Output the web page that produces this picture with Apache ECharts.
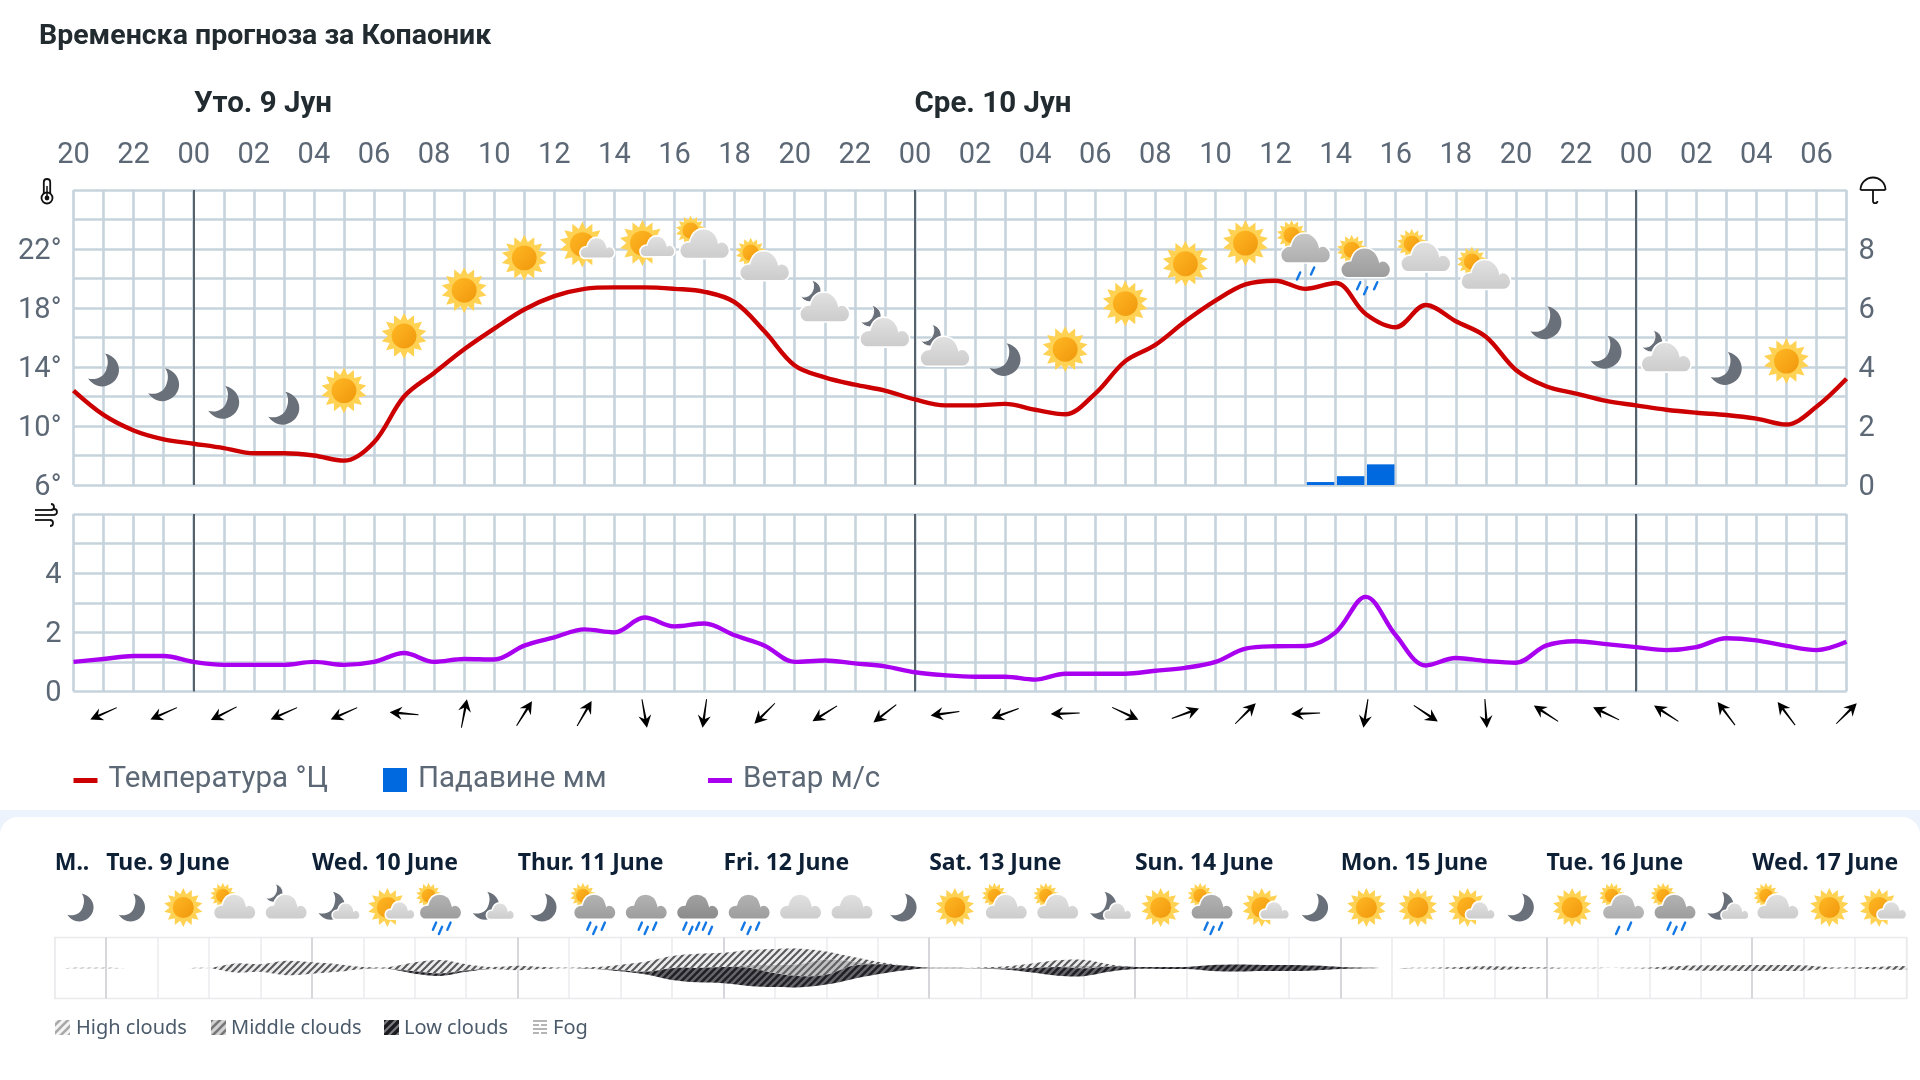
<!DOCTYPE html>
<html lang="sr">
<head>
<meta charset="utf-8">
<title>Временска прогноза за Копаоник</title>
<style>html,body{margin:0;padding:0;background:#fff}#chart{width:1920px;height:1080px}</style>
<script src="https://cdn.jsdelivr.net/npm/echarts@6/dist/echarts.min.js"></script>
</head>
<body>
<div id="chart"></div>
<script>
// Hourly forecast: hour 0 is 20:00 on the evening before the first day.
const hourLabels = ['20','22','00','02','04','06','08','10','12','14','16','18','20','22','00','02','04','06','08','10','12','14','16','18','20','22','00','02','04','06'];
const tempTicks = [6,10,14,18,22];
const rainTicks = [0,2,4,6,8];
const windTicks = [0,2,4];
const midnightHours = [4,28,52];

const temperature = [12.4,10.75,9.7,9.1,8.8,8.5,8.15,8.15,8.0,7.65,8.9,12.0,13.6,15.2,16.6,17.9,18.8,19.3,19.4,19.4,19.3,19.1,18.4,16.4,14.1,13.3,12.8,12.4,11.8,11.4,11.4,11.5,11.1,10.8,12.2,14.4,15.5,17.1,18.5,19.6,19.85,19.3,19.7,17.6,16.7,18.2,17.1,16.05,13.8,12.7,12.2,11.7,11.4,11.1,10.9,10.75,10.5,10.1,11.3,13.2];
const wind = [1.0,1.1,1.2,1.2,1.0,0.9,0.9,0.9,1.0,0.9,1.0,1.3,1.0,1.1,1.08,1.55,1.83,2.1,2.0,2.5,2.2,2.3,1.9,1.55,1.0,1.05,0.95,0.85,0.65,0.55,0.5,0.5,0.4,0.6,0.6,0.6,0.7,0.8,1.0,1.45,1.53,1.54,2.0,3.2,1.9,0.88,1.13,1.03,0.97,1.55,1.7,1.6,1.5,1.4,1.5,1.8,1.73,1.54,1.4,1.68];
const rainHours = [41.5,42.5,43.5];
const rainValues = [0.1,0.3,0.7];

// Wind arrows at every odd hour; bearing the arrow points to, clockwise from north.
const arrowHours = [1,3,5,7,9,11,13,15,17,19,21,23,25,27,29,31,33,35,37,39,41,43,45,47,49,51,53,55,57,59];
const arrowBearing = [246,246,243,246,246,275,11,32,30,170,188,225,238,232,262,250,268,115,70,45,268,189,124,176,303,296,303,323,323,45];

// Weather symbols above the temperature curve, height given in degrees.
const symbolHours = [1,3,5,7,9,11,13,15,17,19,21,23,25,27,29,31,33,35,37,39,41,43,45,47,49,51,53,55,57];
const symbolLevels = [13.8,12.8,11.6,11.2,12.4,16.1,19.2,21.4,22.3,22.4,22.3,20.8,18,16.3,15,14.5,15.2,18.3,21,22.4,22,21,21.4,20.2,17,15,14.6,13.9,14.4];
const symbolKinds = ['moon','moon','moon','moon','sun','sun','sun','sun','sun-s','sun-s','sun-c','sun-c','moon-c','moon-c','moon-c','moon','sun','sun','sun','sun','sun-r2','sun-r3','sun-c','sun-c','moon','moon','moon-c','moon','sun'];

// Nine day outlook, one symbol for each six hour cell.
const outlookDays = {0:'M..',1:'Tue. 9 June',5:'Wed. 10 June',9:'Thur. 11 June',13:'Fri. 12 June',17:'Sat. 13 June',21:'Sun. 14 June',25:'Mon. 15 June',29:'Tue. 16 June',33:'Wed. 17 June'};
const outlookDayStarts = [1,5,9,13,17,21,25,29,33];
const outlookKinds = ['moon','moon','sun','sun-c','moon-c','moon-s','sun-s','sun-r3','moon-s','moon','sun-r3','rain3','rain5','rain3','cloud','cloud','moon','sun','sun-c','sun-c','moon-s','sun','sun-r3','sun-s','moon','sun','sun','sun-s','moon','sun','sun-r2','sun-r3','moon-s','sun-c','sun','sun-s'];

// Cloud layers, sampled every three hours over the nine days (half-cell steps).
const highClouds = [0,2,2,0,0,0,0,30,25,47,37,25,6,6,29,44,21,6,14,6,2,6,18,34,40,47,47,50,53,50,27,15,8,0,0,0,2,7,15,22,20,8,0,0,0,0,0,0,0,0,0,0,0,2,4,9,11,6,4,2,1,1,3,12,18,18,20,20,18,5,5,9,10];
const midClouds  = [0,0,0,0,0,0,0,0,0,0,0,0,0,0,0,0,0,0,0,0,0,0,0,0,0,0,0,8,27,40,50,15,0,0,0,0,0,0,0,0,8,0,0,0,0,0,0,0,0,0,0,0,0,0,0,0,0,0,0,0,0,0,0,0,0,0,0,0,0,0,0,0,0];
const lowClouds  = [0,0,0,0,0,0,0,0,0,0,0,0,0,0,8,8,4,0,0,0,0,0,4,9,39,47,53,60,45,36,32,43,33,16,2,2,1,4,15,29,26,17,7,7,7,19,23,20,20,16,7,2,0,0,0,0,0,0,0,0,0,0,0,0,0,0,0,0,0,0,0,0,0];

const GRID_LINE = '#c6d3dc', MID_LINE = '#56616c', TICK = '#5c6875';
const CN = 'Roboto';

const MOON = 'M2,-16 C12,-14 17,-5 16,2 C15,11 7,17 -1,17 C-7,17 -12,13 -15,9 C-7,11 0,8 3,1 C6,-6 5,-12 2,-16 Z';
const CLOUD = 'M-18,14 H18 C22,14 25,10 25,6 C25,1 21,-3 17,-3 C16,-3 15,-3 14,-2 C12,-11 6,-16 -1,-16 C-8,-16 -13,-11 -15,-3 C-21,-3 -25,1 -25,6 C-25,10 -22,14 -18,14 Z';
const LG = (a, b) => new echarts.graphic.LinearGradient(0, 0, 0, 1, [{offset:0,color:a},{offset:1,color:b}]);
const TONES = {light:['#e2e2e2','#cbcbcb'], mid:['#c8c8c8','#adadad'], dark:['#b4b4b4','#9c9c9c'], deep:['#a3a3a3','#8a8a8a']};

function moonEl(cx, cy, s, halo) {
  return {type:'path', shape:{pathData:MOON, x:cx-15.5*s, y:cy-16.5*s, width:31*s, height:33*s},
    style:{fill:'#6a7079', stroke: halo ? '#fff' : null, lineWidth: halo ? 1 : 0}};
}
function cloudEl(cx, cy, s, tone) {
  const t = TONES[tone];
  return {type:'path', shape:{pathData:CLOUD, x:cx-25*s, y:cy-16*s, width:50*s, height:30*s},
    style:{fill:LG(t[0], t[1]), stroke:'#fff', lineWidth:1.6}};
}
function sunEls(cx, cy, r) {
  const pts = [], n = 14;
  for (let i = 0; i < n * 2; i++) {
    const a = Math.PI * i / n - Math.PI / 2, q = i % 2 ? r * 0.7 : r;
    pts.push([cx + q * Math.cos(a), cy + q * Math.sin(a)]);
  }
  return [
    {type:'polygon', shape:{points:pts}, style:{fill:'#ffd253'}},
    {type:'circle', shape:{cx, cy, r:r * 0.54},
      style:{fill:new echarts.graphic.LinearGradient(0,0,1,1,[{offset:0,color:'#ffb824'},{offset:1,color:'#f0970c'}])}}
  ];
}
function dropEls(cx, cy, list) {
  return list.map(d => ({type:'line', shape:{x1:cx+d[0]+1.6, y1:cy+d[1]-3.6, x2:cx+d[0]-1.6, y2:cy+d[1]+3.6},
    style:{stroke:'#1478e4', lineWidth:2.4, lineCap:'round'}}));
}
// A weather symbol centred on (cx, cy) at scale s.
function symbolEls(kind, cx, cy, s) {
  switch (kind) {
    case 'moon': return [moonEl(cx, cy, s)];
    case 'sun': return sunEls(cx, cy, 23 * s);
    case 'cloud': return [cloudEl(cx, cy, s, 'light')];
    case 'sun-s': return [...sunEls(cx - 2*s, cy, 23*s), cloudEl(cx + 13*s, cy + 4*s, 0.7*s, 'light')];
    case 'sun-c': return [...sunEls(cx - 14*s, cy - 14*s, 15*s), cloudEl(cx, cy, s, 'light')];
    case 'sun-r2': return [...sunEls(cx - 14*s, cy - 14*s, 15*s), cloudEl(cx, cy, s, 'mid'),
      ...dropEls(cx, cy, [[-7*s,27*s],[7*s,22*s]])];
    case 'sun-r3': return [...sunEls(cx - 14*s, cy - 14*s, 15*s), cloudEl(cx, cy, s, 'dark'),
      ...dropEls(cx, cy, [[-7*s,22*s],[0,27*s],[10*s,22*s]])];
    case 'rain3': return [cloudEl(cx, cy, s, 'dark'), ...dropEls(cx, cy, [[-7*s,22*s],[0,27*s],[10*s,22*s]])];
    case 'rain5': return [cloudEl(cx, cy, s, 'deep'),
      ...dropEls(cx, cy, [[-15*s,22*s],[-8*s,27*s],[0,22*s],[8*s,22*s],[15*s,27*s]])];
    case 'moon-c': return [moonEl(cx - 14*s, cy - 17*s, 0.66*s, true), cloudEl(cx, cy, s, 'light')];
    case 'moon-s': return [moonEl(cx - 7*s, cy - 2*s, s), cloudEl(cx + 10*s, cy + 5*s, 0.66*s, 'light')];
  }
  return [];
}

// Diagonal hatching used for the cloud layers.
function hatch(bg, stripe, lw, s) {
  const c = document.createElement('canvas');
  c.width = c.height = s;
  const g = c.getContext('2d');
  g.fillStyle = bg; g.fillRect(0, 0, s, s);
  g.strokeStyle = stripe; g.lineWidth = lw;
  [[-s,s,s,-s],[0,s,s,0],[0,2*s,2*s,0]].forEach(l => { g.beginPath(); g.moveTo(l[0],l[1]); g.lineTo(l[2],l[3]); g.stroke(); });
  return {image:c, repeat:'repeat'};
}
const HIGH_FILL = hatch('#ececec', '#58585c', 2, 7);
const MID_FILL  = hatch('#c2c2c2', '#626266', 2.2, 7);
const LOW_FILL  = hatch('#202024', '#66666c', 2.4, 7);
const HIGH_KEY  = hatch('#f4f4f4', '#a8a8a8', 2.6, 8);
const MID_KEY   = hatch('#d2d2d2', '#777779', 2.6, 8);
const LOW_KEY   = hatch('#1c1c20', '#7c7c80', 2.2, 8);

// Builds one cloud band as a polygon between two stacked boundaries.
function cloudBand(layer, fill) {
  return function (params, api) {
    const up = [], down = [];
    highClouds.forEach((h, i) => {
      const m = midClouds[i], l = lowClouds[i], top = (h + m + l) / 2;
      const edge = [top, top - h, top - h - m, top - h - m - l];
      up.push(api.coord([i / 2, edge[layer]]));
      down.unshift(api.coord([i / 2, edge[layer + 1]]));
    });
    return {type:'polygon', shape:{points:up.concat(down), smooth:0.35}, style:{fill}};
  };
}

const lineIcon = 'path://M0,0h.01v.01h-.01z M24,24h.01v.01h-.01z M0,10h24v5H0z';
const boxIcon = 'path://M0,0h24v24h-24z';
const legendBase = {top:765, itemWidth:24, itemHeight:24, padding:0, selectedMode:false,
  textStyle:{fontFamily:CN, fontSize:29.5, color:TICK, padding:[0,0,0,6]}};

const hourAxisBase = {type:'value', min:0, max:59, interval:1, axisLine:{show:false}, axisTick:{show:false},
  splitLine:{show:true, lineStyle:{color:GRID_LINE, width:2.6}}};
const yBase = {type:'value', axisLine:{show:false}, axisTick:{show:false},
  splitLine:{show:true, lineStyle:{color:GRID_LINE, width:2.6}}};
const tickFont = {fontFamily:CN, fontSize:29, color:TICK};
// Side labels sit slightly below their grid line.
const sideLabel = (list, suffix) => ({margin:12, ...tickFont,
  rich:{t:{...tickFont, padding:[5,0,0,0]}},
  formatter:v => list.includes(v) ? '{t|' + v + suffix + '}' : ''});
const midnightLine = {silent:true, symbol:'none', z:1, label:{show:false}, animation:false,
  lineStyle:{color:MID_LINE, width:2, type:'solid'}, data:midnightHours.map(h => ({xAxis:h}))};

const stroke1 = {fill:'none', stroke:'#111', lineWidth:1.8};
const fogStyle = {fill:'#b5b5b5'};

const chart = echarts.init(document.getElementById('chart'), null, {renderer:'canvas'});
chart.setOption({
  animation:false,
  backgroundColor:'#fff',
  textStyle:{fontFamily:CN},
  grid:[
    {left:73.5, right:73.5, top:190, height:295},
    {left:73.5, right:73.5, top:514, height:177.5},
    {left:54.7, right:13.5, top:937.5, height:61, show:true, borderColor:'#e9e9ec', borderWidth:1.5, backgroundColor:'transparent'}
  ],
  xAxis:[
    {...hourAxisBase, gridIndex:0, position:'top',
      axisLabel:{show:true, margin:20, ...tickFont, hideOverlap:false,
        formatter:v => v % 2 === 0 ? hourLabels[v / 2] : ''}},
    {...hourAxisBase, gridIndex:1, axisLabel:{show:false}},
    {type:'value', gridIndex:2, min:0, max:36, interval:1, position:'top', axisLine:{show:false}, axisTick:{show:false},
      splitLine:{show:true, lineStyle:{color:'#ebebee', width:1.5}},
      axisLabel:{show:true, margin:63, align:'left', fontFamily:'Noto Sans', fontWeight:'bold', fontSize:23, color:'#0e2036', hideOverlap:false,
        formatter:v => outlookDays[v] || ''}}
  ],
  yAxis:[
    {...yBase, gridIndex:0, min:6, max:26, interval:2, axisLabel:sideLabel(tempTicks, '°')},
    {...yBase, gridIndex:0, position:'right', min:0, max:10, interval:1, splitLine:{show:false}, axisLabel:sideLabel(rainTicks, '')},
    {...yBase, gridIndex:1, min:0, max:6, interval:1, axisLabel:sideLabel(windTicks, '')},
    {type:'value', gridIndex:2, min:-100, max:100, show:false}
  ],
  legend:[
    {...legendBase, left:73.5, data:[{name:'Температура °Ц', icon:lineIcon, itemStyle:{color:'#cc0000'}}]},
    {...legendBase, left:383, data:[{name:'Падавине мм', icon:boxIcon, itemStyle:{color:'#0069e0'}}]},
    {...legendBase, left:708, data:[{name:'Ветар м/с', icon:lineIcon, itemStyle:{color:'#aa00f0'}}]}
  ],
  series:[
    {type:'line', name:'midnight-a', xAxisIndex:0, yAxisIndex:0, data:[], z:1, markLine:midnightLine},
    {type:'line', name:'midnight-b', xAxisIndex:1, yAxisIndex:2, data:[], z:1, markLine:midnightLine},
    {type:'bar', name:'Падавине мм', xAxisIndex:0, yAxisIndex:1, barWidth:27.5, z:2,
      itemStyle:{color:'#0069e0'}, data:rainHours.map((h, i) => [h, rainValues[i]])},
    {type:'line', name:'Температура °Ц', xAxisIndex:0, yAxisIndex:0, z:4, smooth:0.35, showSymbol:false,
      lineStyle:{color:'#cc0000', width:4.4}, itemStyle:{color:'#cc0000'},
      data:temperature.map((t, i) => [i, t])},
    {type:'line', name:'Ветар м/с', xAxisIndex:1, yAxisIndex:2, z:4, smooth:0.35, showSymbol:false,
      lineStyle:{color:'#aa00f0', width:4.4}, itemStyle:{color:'#aa00f0'},
      data:wind.map((w, i) => [i, w])},
    // Weather symbols above the temperature curve
    {type:'custom', xAxisIndex:0, yAxisIndex:0, z:5, silent:true, clip:false,
      data:symbolHours.map((h, i) => [h, symbolLevels[i]]),
      renderItem:(p, api) => {
        const c = api.coord([api.value(0), api.value(1)]);
        return {type:'group', children:symbolEls(symbolKinds[p.dataIndex], c[0], c[1], 1)};
      }},
    // Wind direction arrows below the wind panel
    {type:'custom', xAxisIndex:1, yAxisIndex:2, z:5, silent:true, clip:false,
      data:arrowHours.map((h, i) => [h, 0, arrowBearing[i]]),
      renderItem:(p, api) => {
        const c = api.coord([api.value(0), 0]);
        return {type:'polygon', x:c[0], y:c[1] + 22, rotation:-api.value(2) * Math.PI / 180,
          shape:{points:[[0,-14.5],[6.5,-2],[1.2,-5.5],[0.5,14.5],[-0.5,14.5],[-1.2,-5.5],[-6.5,-2]]}, style:{fill:'#000'}};
      }},
    // Cloud layers of the nine day strip
    {type:'custom', xAxisIndex:2, yAxisIndex:3, z:2, silent:true, data:[[0,0]], renderItem:cloudBand(0, HIGH_FILL)},
    {type:'custom', xAxisIndex:2, yAxisIndex:3, z:3, silent:true, data:[[0,0]], renderItem:cloudBand(1, MID_FILL)},
    {type:'custom', xAxisIndex:2, yAxisIndex:3, z:4, silent:true, data:[[0,0]], renderItem:cloudBand(2, LOW_FILL)},
    // Day separators in the strip
    {type:'line', name:'day-lines', xAxisIndex:2, yAxisIndex:3, data:[], z:1,
      markLine:{silent:true, symbol:'none', z:1, label:{show:false}, animation:false,
        lineStyle:{color:'#cfcfd3', width:1.5, type:'solid'}, data:outlookDayStarts.map(c => ({xAxis:c}))}},
    // Nine day weather symbols
    {type:'custom', xAxisIndex:2, yAxisIndex:3, z:5, silent:true, clip:false,
      data:outlookKinds.map((k, i) => [i + 0.5, 100]),
      renderItem:(p, api) => {
        const c = api.coord([api.value(0), api.value(1)]);
        return {type:'group', children:symbolEls(outlookKinds[p.dataIndex], c[0], c[1] - 30, 0.85)};
      }}
  ],
  graphic:{elements:[
    {type:'rect', z:-20, shape:{x:0, y:810, width:1920, height:270}, style:{fill:'#edf3fc'}},
    {type:'rect', z:-19, shape:{x:0, y:817, width:1920, height:270, r:[18,18,0,0]}, style:{fill:'#fff'}},
    {type:'text', x:39, y:37, style:{text:'Временска прогноза за Копаоник', fontFamily:CN, fontWeight:'bold', fontSize:28.5, fill:'#222b30', verticalAlign:'middle'}},
    {type:'text', x:263, y:105, style:{text:'Уто. 9 Јун', fontFamily:CN, fontWeight:'bold', fontSize:29.5, fill:'#222b30', align:'center', verticalAlign:'middle'}},
    {type:'text', x:993, y:105, style:{text:'Сре. 10 Јун', fontFamily:CN, fontWeight:'bold', fontSize:29.5, fill:'#222b30', align:'center', verticalAlign:'middle'}},

    // Thermometer
    {type:'group', x:47, y:191, children:[
      {type:'rect', shape:{x:-3.2, y:-12, width:6.4, height:19, r:3.2}, style:stroke1},
      {type:'circle', shape:{cx:0, cy:7, r:5.5}, style:{fill:'#fff', stroke:'#111', lineWidth:1.8}},
      {type:'circle', shape:{cx:0, cy:7, r:2.4}, style:{fill:'#111'}},
      {type:'line', shape:{x1:0, y1:-5, x2:0, y2:6}, style:{stroke:'#111', lineWidth:1.5}}
    ]},
    // Umbrella
    {type:'group', x:1873, y:190, children:[
      {type:'arc', shape:{cx:0, cy:0, r:12.5, startAngle:Math.PI, endAngle:2 * Math.PI}, style:stroke1},
      {type:'line', shape:{x1:-12.5, y1:0, x2:12.5, y2:0}, style:stroke1},
      {type:'line', shape:{x1:0, y1:0, x2:0, y2:11}, style:stroke1},
      {type:'arc', shape:{cx:2.2, cy:11, r:2.2, startAngle:0, endAngle:Math.PI, clockwise:true}, style:stroke1}
    ]},
    // Wind
    {type:'group', x:46, y:515, children:[
      {type:'line', shape:{x1:-11, y1:-5, x2:5, y2:-5}, style:stroke1},
      {type:'arc', shape:{cx:5, cy:-8, r:3, startAngle:-Math.PI / 2, endAngle:Math.PI / 2}, style:stroke1},
      {type:'line', shape:{x1:-11, y1:0, x2:8, y2:0}, style:stroke1},
      {type:'arc', shape:{cx:8, cy:-3, r:3, startAngle:-Math.PI / 2, endAngle:Math.PI / 2}, style:stroke1},
      {type:'line', shape:{x1:-11, y1:5, x2:4, y2:5}, style:stroke1},
      {type:'arc', shape:{cx:4, cy:8, r:3, startAngle:-Math.PI / 2, endAngle:Math.PI / 2}, style:stroke1}
    ]},

    // Cloud legend
    {type:'rect', shape:{x:55, y:1020, width:15, height:15}, style:{fill:HIGH_KEY}},
    {type:'text', x:76, y:1028, style:{text:'High clouds', fontFamily:'Noto Sans', fontSize:20, fill:'#4a5a6a', verticalAlign:'middle'}},
    {type:'rect', shape:{x:211, y:1020, width:15, height:15}, style:{fill:MID_KEY}},
    {type:'text', x:231, y:1028, style:{text:'Middle clouds', fontFamily:'Noto Sans', fontSize:20, fill:'#4a5a6a', verticalAlign:'middle'}},
    {type:'rect', shape:{x:384, y:1020, width:15, height:15}, style:{fill:LOW_KEY}},
    {type:'text', x:404, y:1028, style:{text:'Low clouds', fontFamily:'Noto Sans', fontSize:20, fill:'#4a5a6a', verticalAlign:'middle'}},
    {type:'rect', shape:{x:533, y:1020, width:14, height:2}, style:fogStyle},
    {type:'rect', shape:{x:533, y:1024, width:6, height:2}, style:fogStyle},
    {type:'rect', shape:{x:541, y:1024, width:6, height:2}, style:fogStyle},
    {type:'rect', shape:{x:533, y:1028, width:14, height:2}, style:fogStyle},
    {type:'rect', shape:{x:533, y:1032, width:6, height:2}, style:fogStyle},
    {type:'rect', shape:{x:541, y:1032, width:6, height:2}, style:fogStyle},
    {type:'text', x:553, y:1028, style:{text:'Fog', fontFamily:'Noto Sans', fontSize:20, fill:'#4a5a6a', verticalAlign:'middle'}}
  ]}
});
</script>
</body>
</html>
